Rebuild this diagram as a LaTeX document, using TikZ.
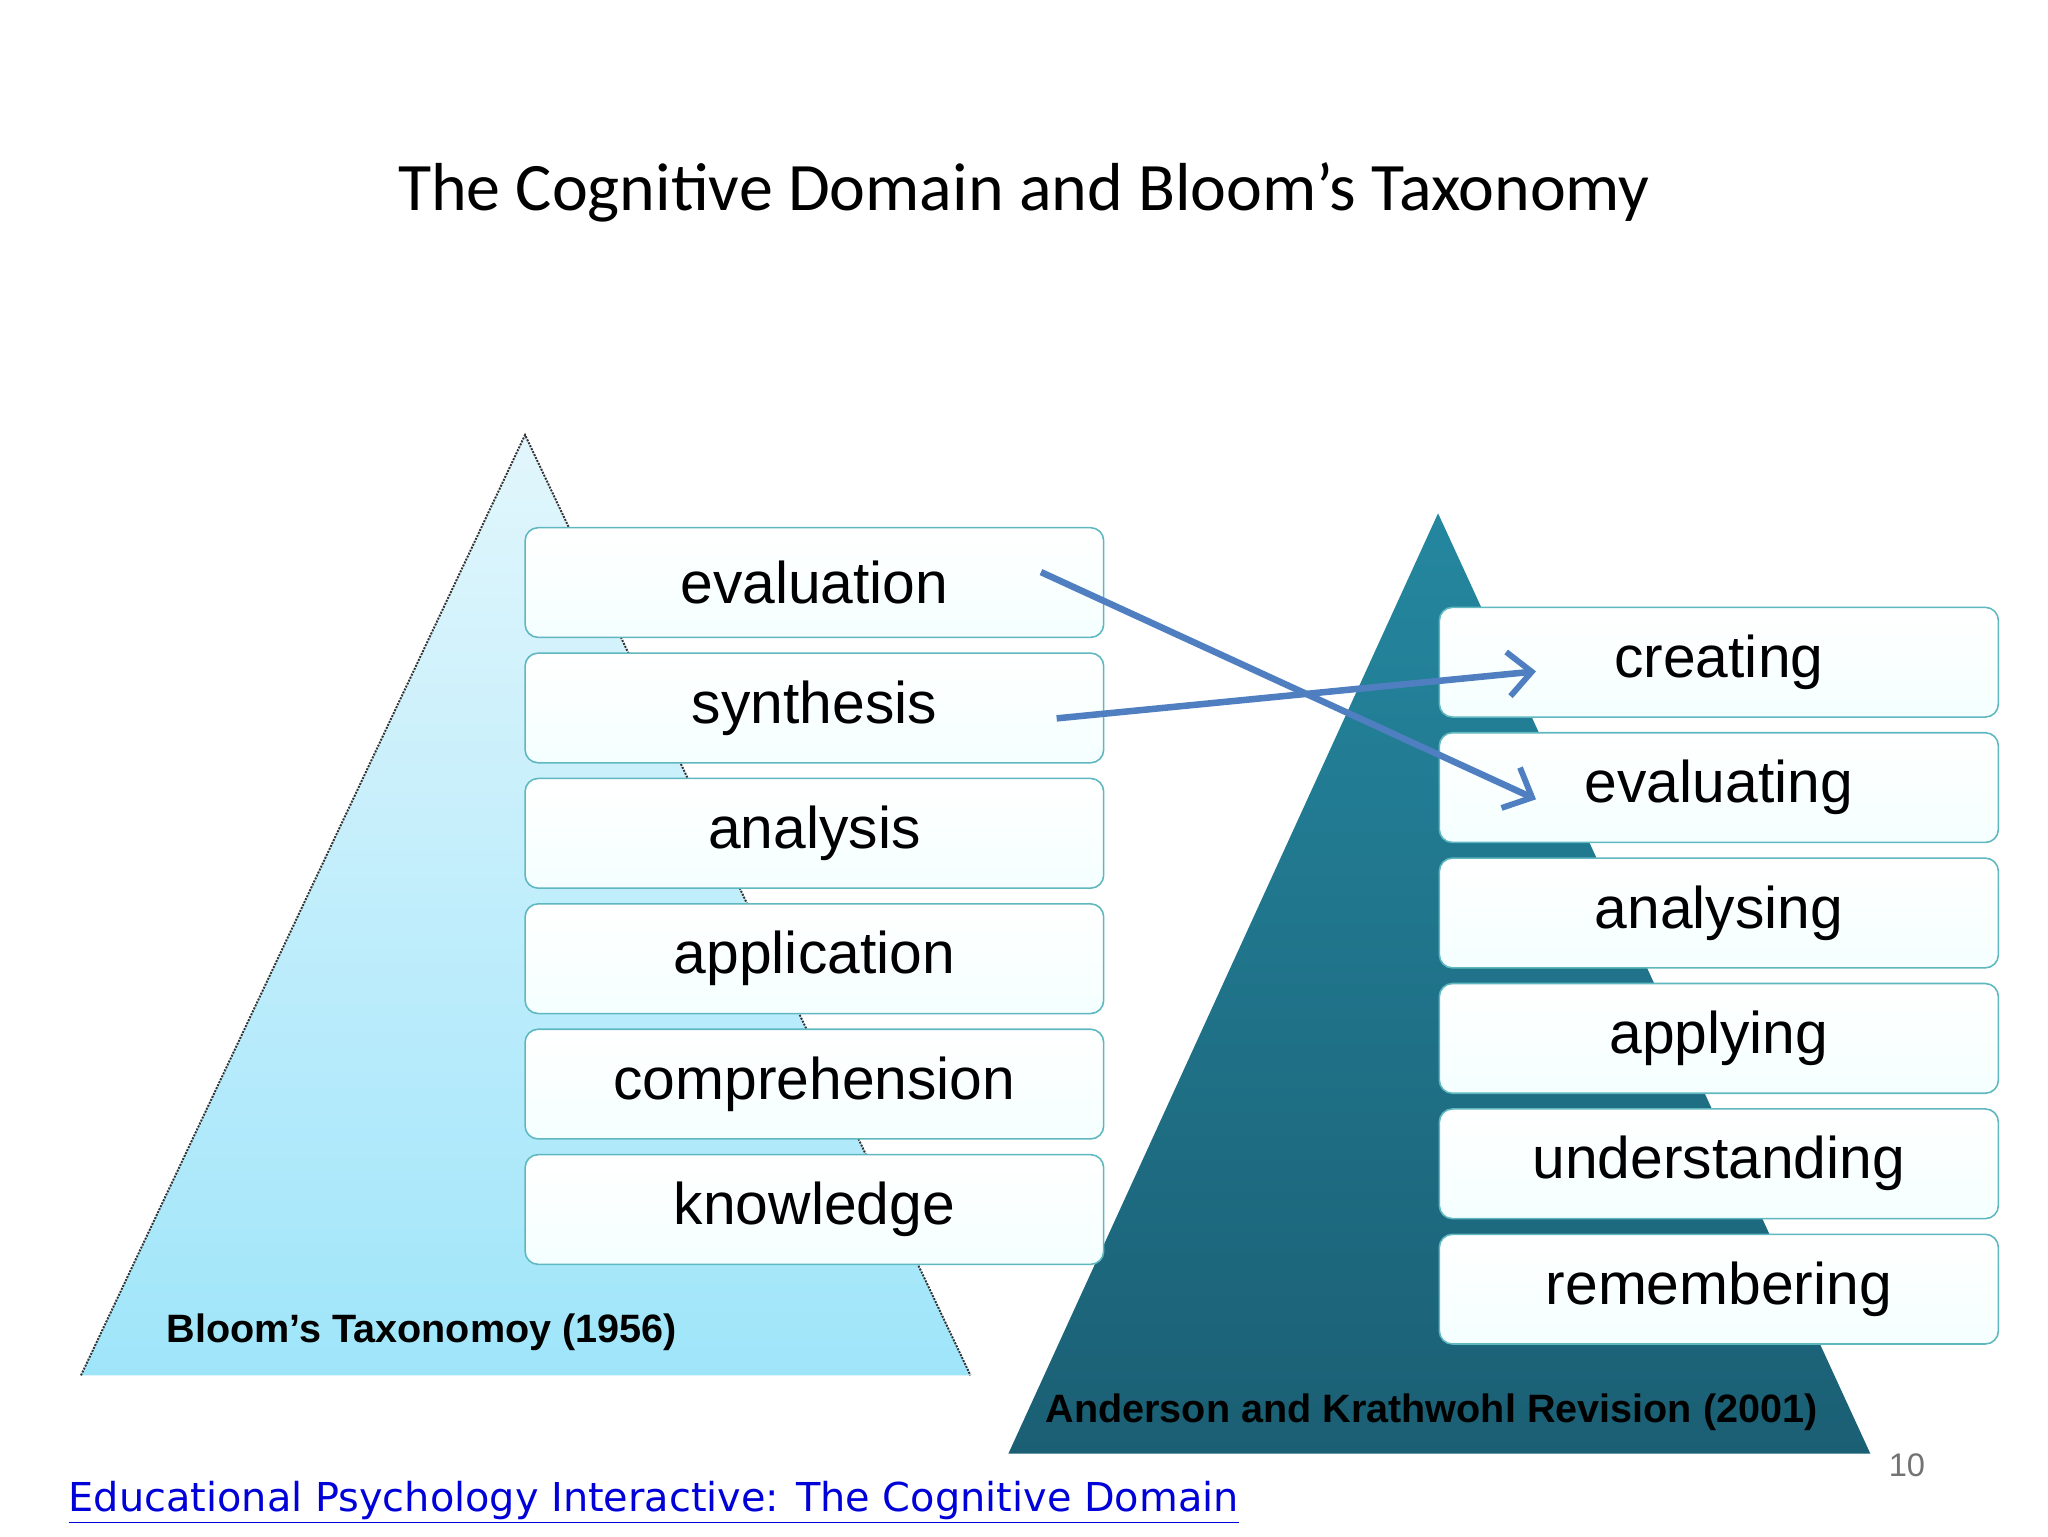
\documentclass[tikz,border=0pt]{standalone}
\usepackage{fontspec}
\setmainfont{Liberation Sans}
\newfontfamily\titlefont{Carlito}
\newfontfamily\linkfont{DejaVu Sans}
\usetikzlibrary{arrows.meta}
\definecolor{boxline}{HTML}{5FB8C0}
\definecolor{arrowblue}{HTML}{4F7FC0}
\definecolor{ltop}{HTML}{E2F6FC}
\definecolor{lbot}{HTML}{9FE5FA}
\tikzset{
  lvl/.style={draw=boxline, line width=1.2pt, rounded corners=10pt, top color=white, bottom color=white!96!cyan,
    minimum height=84pt, inner sep=0pt, font=\fontsize{45}{50}\selectfont},
  lbox/.style={lvl, minimum width=443pt},
  rbox/.style={lvl, minimum width=428pt},
  arr/.style={draw=arrowblue, line width=5pt, -{Straight Barb[length=18pt,width=34pt,line width=4.5pt]}},
  lab/.style={font=\fontsize{30.3}{34}\selectfont\bfseries, anchor=west}
}
\begin{document}
\begin{tikzpicture}[x=1pt,y=-1pt]
\useasboundingbox (0,0) rectangle (1568,1176);
\fill[white] (0,0) rectangle (1568,1176);
\node[font=\titlefont\fontsize{52}{56}\selectfont] (title) at (784,147) {The Cognitive Domain and Bloom’s Taxonomy};
% left triangle
\shade[top color=ltop, bottom color=lbot] (402,333) -- (743,1053) -- (62,1053) -- cycle;
\draw[densely dotted, line width=1.5pt, black!80] (62,1053) -- (402,333) -- (743,1053);
% right triangle
\shade[top color={rgb,255:red,36;green,135;blue,159}, bottom color={rgb,255:red,27;green,95;blue,116}] (1101,393) -- (1432,1113) -- (772,1113) -- cycle;
% left boxes
\foreach \n/\t/\y in {le/evaluation/446, ls/synthesis/542, la/analysis/638, lp/application/734, lc/comprehension/830, lk/knowledge/926}
  \node[lbox] (\n) at (623.5,\y) {\t};
\foreach \n/\t/\y in {rc/creating/507, re/evaluating/603, ra/analysing/699, rp/applying/795, ru/understanding/891, rr/remembering/987}
  \node[rbox] (\n) at (1316,\y) {\t};
\node[lab] (bl) at (124,1020) {Bloom’s Taxonomoy (1956)};
\node[lab] (ak) at (797,1081) {Anderson and Krathwohl Revision (2001)};
\node[font=\fontsize{25}{28}\selectfont, text=black!55] (pg) at (1460,1122) {10};
\node[font=\linkfont\fontsize{30.5}{34}\selectfont, text=blue!85!black, anchor=west] (link) at (49,1150) {\underline{Educational Psychology Interactive: The Cognitive Domain}};
\coordinate (a1) at (797,438);
\coordinate (b1) at (1176,612);
\coordinate (a2) at (809,550);
\coordinate (b2) at (1176,514);
\draw[arr] (a1) -- (b1);
\draw[arr] (a2) -- (b2);
\end{tikzpicture}
\end{document}
